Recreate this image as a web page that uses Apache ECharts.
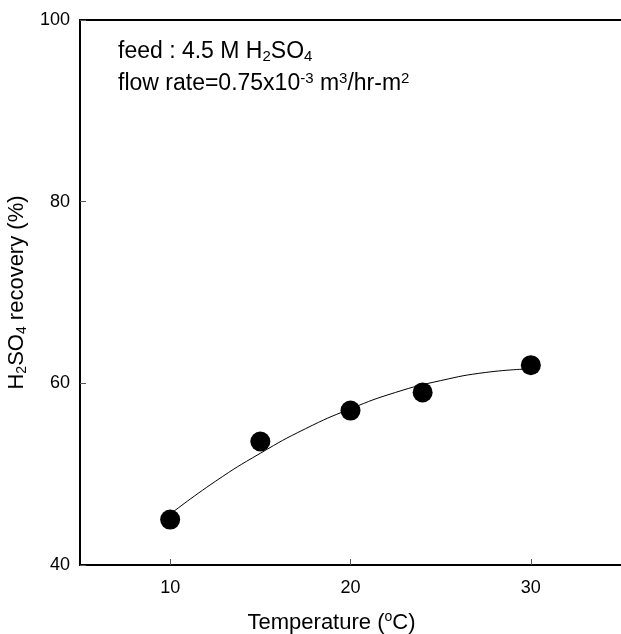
<!DOCTYPE html>
<html>
<head>
<meta charset="utf-8">
<script src="https://cdn.jsdelivr.net/npm/echarts@6/dist/echarts.min.js"></script>
<style>
html,body{margin:0;padding:0;background:#fff;}
#c{width:621px;height:634px;}
</style>
</head>
<body>
<div id="c"></div>
<script>
// Measured points: temperature (°C) vs H2SO4 recovery (%)
var tempX = [10, 15, 20, 24, 30];
var recovery = [45.0, 53.6, 57.0, 59.0, 62.0];
// Fitted curve
var curveX = [10, 12.5, 15, 17.5, 20, 22.5, 25, 27.5, 30];
var curveY = [45.6, 49.2, 52.3, 55.0, 57.2, 59.0, 60.3, 61.2, 61.6];
var xTicks = [10, 20, 30];

var FONT = '"Liberation Sans", Arial, sans-serif';
var chart = echarts.init(document.getElementById('c'));

function pairs(xs, ys) { return xs.map(function (x, i) { return [x, ys[i]]; }); }

chart.setOption({
  backgroundColor: '#fff',
  animation: false,
  grid: { left: 80, right: 0, top: 20, bottom: 69, containLabel: false, outerBoundsMode: 'none' },
  xAxis: [{
    type: 'value', min: 5, max: 35,
    name: '{n|Temperature (}{sup|o}{n|C)}',
    nameLocation: 'middle', nameGap: 45,
    nameTextStyle: {
      padding: [0, 38, 0, 0],
      rich: {
        n: { fontFamily: FONT, fontSize: 22, color: '#000' },
        sup: { fontFamily: FONT, fontSize: 14, color: '#000', verticalAlign: 'top', padding: [0, 0, 12, 0] }
      }
    },
    axisLine: { show: true, lineStyle: { color: '#000', width: 2 } },
    axisTick: { show: true, inside: true, length: 6, customValues: xTicks, lineStyle: { color: '#555', width: 1 } },
    axisLabel: { customValues: xTicks, fontFamily: FONT, fontSize: 18, color: '#000', margin: 14 },
    splitLine: { show: false }
  }, {
    type: 'value', min: 5, max: 35, position: 'top',
    axisLine: { show: true, onZero: false, lineStyle: { color: '#000', width: 2 } },
    axisTick: { show: false }, axisLabel: { show: false }, splitLine: { show: false }
  }],
  yAxis: {
    type: 'value', min: 40, max: 100, interval: 20,
    name: '{n|H}{sub|2}{n|SO}{sub|4}{n| recovery (%)}',
    nameLocation: 'middle', nameGap: 48,
    nameTextStyle: {
      rich: {
        n: { fontFamily: FONT, fontSize: 22, color: '#000' },
        sub: { fontFamily: FONT, fontSize: 14, color: '#000', verticalAlign: 'bottom', padding: [10, 0, 0, 0] }
      }
    },
    axisLine: { show: true, lineStyle: { color: '#000', width: 2 } },
    axisTick: { show: true, inside: true, length: 6, lineStyle: { color: '#555', width: 1 } },
    axisLabel: { fontFamily: FONT, fontSize: 18, color: '#000', margin: 10 },
    splitLine: { show: false }
  },
  graphic: [{
    type: 'text', left: 118, top: 40,
    style: {
      text: '{n|feed : 4.5 M H}{sub|2}{n|SO}{sub|4}',
      rich: {
        n: { fontFamily: FONT, fontSize: 23, fill: '#000', lineHeight: 26 },
        sub: { fontFamily: FONT, fontSize: 15, fill: '#000', verticalAlign: 'bottom', padding: [11, 0, 0, 0] }
      }
    }
  }, {
    type: 'text', left: 118, top: 71,
    style: {
      text: '{n|flow rate=0.75x10}{sup|-3}{n| m}{sup|3}{n|/hr-m}{sup|2}',
      rich: {
        n: { fontFamily: FONT, fontSize: 23, fill: '#000', lineHeight: 26 },
        sup: { fontFamily: FONT, fontSize: 15, fill: '#000', verticalAlign: 'top', padding: [0, 0, 11, 0] }
      }
    }
  }],
  series: [{
    type: 'line', data: pairs(curveX, curveY), smooth: true, showSymbol: false,
    lineStyle: { color: '#000', width: 1 }, z: 2, silent: true
  }, {
    type: 'scatter', data: pairs(tempX, recovery), symbol: 'circle', symbolSize: 20,
    itemStyle: { color: '#000', opacity: 1 }, z: 3
  }]
});
</script>
</body>
</html>
